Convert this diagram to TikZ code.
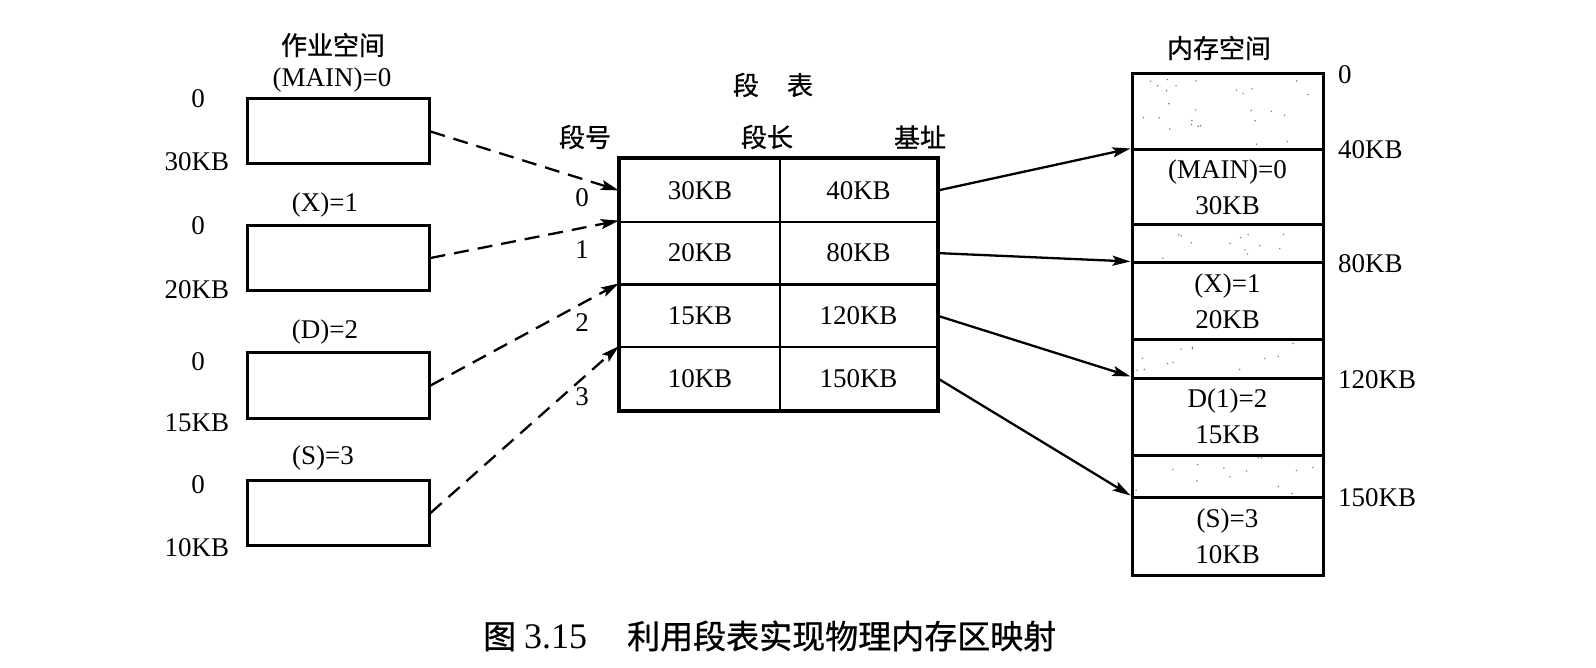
\documentclass[tikz,border=0pt]{standalone}
\usepackage{fontspec}
\setmainfont{Liberation Serif}
\newfontfamily\cjk[FakeBold=0.8]{Noto Sans CJK SC}
\usetikzlibrary{arrows.meta}
\begin{document}
\begin{tikzpicture}[x=1pt,y=-1pt,
  lat/.style={font=\fontsize{27}{30}\selectfont, inner sep=0pt},
  zh/.style={font=\cjk\fontsize{26}{30}\selectfont, inner sep=0pt},
  jobbox/.style={draw, line width=3pt, minimum width=182pt, minimum height=65pt, inner sep=0pt},
  cell/.style={draw, line width=2.2pt, minimum height=62.75pt, inner sep=0pt, font=\fontsize{27}{30}\selectfont},
  mem/.style={draw, line width=3pt, minimum width=191pt, inner sep=0pt, align=center, font=\fontsize{27}{36}\selectfont},
  gapfill/.style={fill=white},
  tipstyle/.style={-{Stealth[length=18pt,width=10pt,inset=3.5pt]}},
  darr/.style={line width=2.3pt, dash pattern=on 15pt off 9pt, tipstyle},
  sarr/.style={line width=2.3pt, tipstyle}
]
\useasboundingbox (0,0) rectangle (1596,668);

% ---- job space ----
\node[zh] (jobtitle) at (333,45) {作业空间};
\node[jobbox] (jm) at (338,131.5) {};
\node[jobbox] (jx) at (338,258) {};
\node[jobbox] (jd) at (338,385.5) {};
\node[jobbox] (js) at (338,513) {};
\node[lat] (tm) at (332,80) {(MAIN)=0};
\node[lat] (tx) at (325,205) {(X)=1};
\node[lat] (td) at (325,332) {(D)=2};
\node[lat] (ts) at (323,458) {(S)=3};
\node[lat] (m0) at (198,99) {0};
\node[lat] (m1) at (197,162) {30KB};
\node[lat] (x0) at (198,226) {0};
\node[lat] (x1) at (197,290) {20KB};
\node[lat] (d0) at (198,362) {0};
\node[lat] (d1) at (197,423) {15KB};
\node[lat] (s0) at (198,485) {0};
\node[lat] (s1) at (197,548) {10KB};

% ---- segment table ----
\node[zh] (sttitle) at (773,85) {段\hspace{28pt}表};
\node[zh] (h1) at (585,137) {段号};
\node[zh] (h2) at (767,137) {段长};
\node[zh] (h3) at (920,137) {基址};
\node[cell, minimum width=160pt] (l0) at (700,190.4) {30KB};
\node[cell, minimum width=157pt] (b0) at (858.5,190.4) {40KB};
\node[cell, minimum width=160pt] (l1) at (700,253.1) {20KB};
\node[cell, minimum width=157pt] (b1) at (858.5,253.1) {80KB};
\node[cell, minimum width=160pt] (l2) at (700,315.9) {15KB};
\node[cell, minimum width=157pt] (b2) at (858.5,315.9) {120KB};
\node[cell, minimum width=160pt] (l3) at (700,378.6) {10KB};
\node[cell, minimum width=157pt] (b3) at (858.5,378.6) {150KB};
\draw[line width=3pt] (l0.north west) rectangle (b3.south east);
\node[lat] (n0) at (582,198) {0};
\node[lat] (n1) at (582,250) {1};
\node[lat] (n2) at (582,323) {2};
\node[lat] (n3) at (582,397) {3};

% ---- memory ----
\node[zh] (memtitle) at (1219,48) {内存空间};
\node[mem, gapfill, minimum height=76pt] (g0) at (1227.5,112) {};
\node[mem, minimum height=75pt] (mm) at (1227.5,187.5) {(MAIN)=0\\30KB};
\node[mem, gapfill, minimum height=38pt] (g1) at (1227.5,244) {};
\node[mem, minimum height=77pt] (mx) at (1227.5,301.5) {(X)=1\\20KB};
\node[mem, gapfill, minimum height=38pt] (g2) at (1227.5,359) {};
\node[mem, minimum height=77pt] (md) at (1227.5,416.5) {D(1)=2\\15KB};
\node[mem, gapfill, minimum height=42pt] (g3) at (1227.5,476) {};
\node[mem, minimum height=78pt] (ms) at (1227.5,536) {(S)=3\\10KB};
\pgfmathsetseed{11}
\foreach \top/\h/\n in {76/72/26, 227/34/12, 342/34/12, 457/38/13}{
  \foreach \i in {1,...,\n}{
    \pgfmathsetmacro{\rx}{1136+rnd*183}
    \pgfmathsetmacro{\ry}{\top+rnd*\h}
    \fill[black!55] (\rx,\ry) circle (0.8pt);
  }
}
\node[lat, anchor=west] (a0) at (1338,75) {0};
\node[lat, anchor=west] (a1) at (1338,150) {40KB};
\node[lat, anchor=west] (a2) at (1338,264) {80KB};
\node[lat, anchor=west] (a3) at (1338,380) {120KB};
\node[lat, anchor=west] (a4) at (1338,498) {150KB};

% ---- connectors ----
\draw[darr] (jm.east) -- (l0.west);
\draw[darr] (jx.east) -- (l1.north west);
\draw[darr] (jd.east) -- (l2.north west);
\draw[darr] (js.east) -- (l3.north west);
\draw[sarr] (b0.east) -- (mm.north west);
\draw[sarr] (b1.east) -- (mx.north west);
\draw[sarr] (b2.east) -- (md.north west);
\draw[sarr] (b3.east) -- (ms.north west);

% ---- caption ----
\node[inner sep=0pt, anchor=west] (cap) at (483,636)
  {{\cjk\fontsize{33}{36}\selectfont 图}\hspace{8pt}{\fontsize{36}{36}\selectfont 3.15}\hspace{40pt}{\cjk\fontsize{33}{36}\selectfont 利用段表实现物理内存区映射}};
\end{tikzpicture}
\end{document}
